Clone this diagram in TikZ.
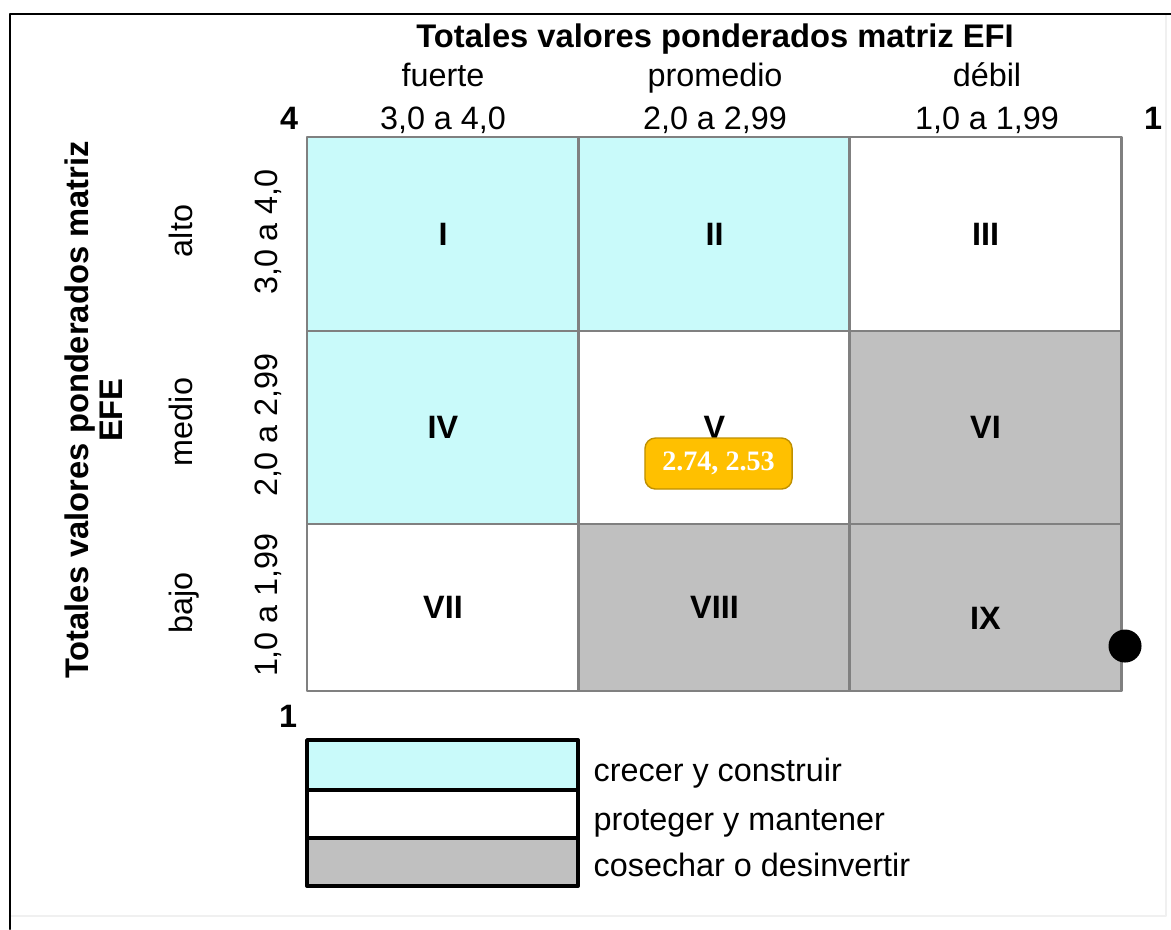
\documentclass[tikz,border=0pt]{standalone}
\usepackage{fontspec}
\setmainfont{Liberation Sans}
\newfontfamily\tagfont{Liberation Serif}
\definecolor{cyancell}{HTML}{C9FAFA}
\definecolor{graycell}{HTML}{C0C0C0}
\definecolor{gridline}{HTML}{808080}
\definecolor{tagfill}{HTML}{FFC000}
\definecolor{tagline}{HTML}{BF9000}
\tikzset{
    cell/.style={draw=gridline, line width=0.7pt, minimum width=2.715cm, inner sep=0pt, font=\fontsize{9.2}{11}\selectfont\bfseries},
    legendbox/.style={draw=black, line width=1pt, minimum width=2.71cm, inner sep=0pt, outer sep=0pt},
    tagbox/.style={draw=tagline, fill=tagfill, rounded corners=3pt, text=white, minimum width=1.47cm, minimum height=0.51cm, inner sep=0pt, font=\tagfont\bfseries\fontsize{8}{10}\selectfont}
}
\begin{document}
\begin{tikzpicture}[x=0.01cm, y=-0.01cm, line cap=round, line join=round, font=\fontsize{9.2}{11}\selectfont]
    \useasboundingbox (0,0) rectangle (1171,929);

    % 外框
    \coordinate (frameTR) at (1171,14);
    \coordinate (frameTL) at (10,14);
    \coordinate (frameBL) at (10,929);
    \coordinate (faintB) at (1166,916);
    \draw[black!6, line width=0.8pt] (frameBL |- faintB) -- (faintB) -- (faintB |- frameTR);
    \draw[line width=0.8pt] (frameTR) -- (frameTL) -- (frameBL);

    % 九个格子
    \foreach \name/\cx/\cy/\h/\col/\lab/\dy in {
        cI/443/234/1.94/cyancell/I/0, cII/714.5/234/1.94/cyancell/II/0, cIII/985.5/234/1.94/white/III/0,
        cIV/443/427.5/1.93/cyancell/IV/0, cV/714.5/427.5/1.93/white/V/0, cVI/985.5/427.5/1.93/graycell/VI/0,
        cVII/443/607.5/1.67/white/VII/0, cVIII/714.5/607.5/1.67/graycell/VIII/0, cIX/985.5/607.5/1.67/graycell/IX/0.11}
        \node[cell, fill=\col, minimum height=\h cm] (\name) at (\cx,\cy) {\raisebox{-\dy cm}[\height][\depth]{\lab}};

    % 上方标题 (EFI)
    \node[anchor=base, font=\fontsize{9.3}{11}\selectfont\bfseries] (efi) at (715,47) {Totales valores ponderados matriz EFI};
    \node[anchor=base] (fuerte) at (443,86) {fuerte};
    \node[anchor=base] (promedio) at (715,86) {promedio};
    \node[anchor=base] (debil) at (987,86) {débil};
    \node[anchor=base] (xr1) at (443,129) {3,0 a 4,0};
    \node[anchor=base] (xr2) at (715,129) {2,0 a 2,99};
    \node[anchor=base] (xr3) at (987,129) {1,0 a 1,99};
    \node[anchor=base, font=\fontsize{9.2}{11}\selectfont\bfseries] (xmax) at (289,129) {4};
    \node[anchor=base, font=\fontsize{9.2}{11}\selectfont\bfseries] (xmin) at (1153,129) {1};

    % 左侧标题 (EFE)
    \node[rotate=90, anchor=base, font=\fontsize{9.3}{11}\selectfont\bfseries] (efe1) at (88,410) {Totales valores ponderados matriz};
    \node[rotate=90, anchor=base, font=\fontsize{9.3}{11}\selectfont\bfseries] (efe2) at (122,410) {EFE};
    \node[rotate=90, anchor=base] (alto) at (192,231) {alto};
    \node[rotate=90, anchor=base] (medio) at (192,422) {medio};
    \node[rotate=90, anchor=base] (bajo) at (192,603) {bajo};
    \node[rotate=90, anchor=base] (yr1) at (277,232) {3,0 a 4,0};
    \node[rotate=90, anchor=base] (yr2) at (277,425) {2,0 a 2,99};
    \node[rotate=90, anchor=base] (yr3) at (277,605) {1,0 a 1,99};
    \node[anchor=base, font=\fontsize{9.2}{11}\selectfont\bfseries] (ymin) at (288,727) {1};

    % 位置点与数值
    \node[circle, fill=black, minimum size=0.33cm, inner sep=0pt] (pos) at (1125,646) {};
    \node[tagbox] (tag) at (718.5,463.5) {2.74, 2.53};

    % 图例
    \node[legendbox, fill=cyancell, minimum height=0.50cm, anchor=north west] (legA) at (307,740) {};
    \node[legendbox, fill=white, minimum height=0.48cm, anchor=north west] (legB) at (legA.south west) {};
    \node[legendbox, fill=graycell, minimum height=0.48cm, anchor=north west] (legC) at (legB.south west) {};
    \node[anchor=base west, inner sep=0pt] (txtA) at (593,781) {crecer y construir};
    \node[anchor=base west, inner sep=0pt] (txtB) at (593,830) {proteger y mantener};
    \node[anchor=base west, inner sep=0pt] (txtC) at (593,876) {cosechar o desinvertir};
\end{tikzpicture}
\end{document}
